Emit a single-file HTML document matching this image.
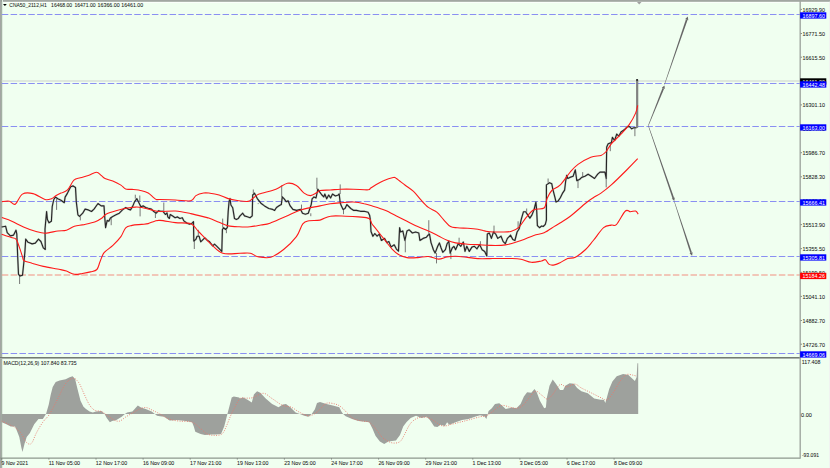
<!DOCTYPE html>
<html><head><meta charset="utf-8"><style>
html,body{margin:0;padding:0;background:#F0FFF0;}
svg{display:block;}
text{font-family:"Liberation Sans",sans-serif;font-size:5.8px;fill:#1a1a1a;stroke:#1a1a1a;stroke-width:0.06px;}
</style></head><body>
<svg width="830" height="468" viewBox="0 0 830 468">
<rect x="0" y="0" width="830" height="468" fill="#F0FFF0"/>
<rect x="0" y="2" width="830" height="1" fill="#fbfffb"/>
<rect x="0" y="0" width="830" height="1.8" fill="#a2a7a2"/>
<rect x="2" y="0" width="1" height="468" fill="#dfeadf"/>
<rect x="0" y="0" width="1.2" height="468" fill="#a3a6a3"/>
<rect x="1.2" y="0" width="0.8" height="468" fill="#94a094"/>
<rect x="829" y="1.8" width="1" height="466.2" fill="#f1f3f1"/>
<line x1="1.8" y1="14.5" x2="800" y2="14.5" stroke="#8a8ff2" stroke-width="1" stroke-dasharray="6.5 2.33"/><line x1="1.8" y1="83.5" x2="800" y2="83.5" stroke="#8a8ff2" stroke-width="1" stroke-dasharray="6.5 2.33"/><line x1="1.8" y1="126.5" x2="800" y2="126.5" stroke="#8a8ff2" stroke-width="1" stroke-dasharray="6.5 2.33"/><line x1="1.8" y1="201.5" x2="800" y2="201.5" stroke="#8a8ff2" stroke-width="1" stroke-dasharray="6.5 2.33"/><line x1="1.8" y1="256.5" x2="800" y2="256.5" stroke="#8a8ff2" stroke-width="1" stroke-dasharray="6.5 2.33"/><line x1="1.8" y1="353.5" x2="800" y2="353.5" stroke="#8a8ff2" stroke-width="1" stroke-dasharray="6.5 2.33"/><line x1="1.8" y1="275" x2="800" y2="275" stroke="#f29080" stroke-width="1.2" stroke-dasharray="6.5 2.33"/>
<line x1="1.8" y1="81" x2="800" y2="81" stroke="#d8e0d8" stroke-width="1.4"/>
<polyline points="1.60,227.00 5.60,226.20 7.20,232.70 10.40,235.90 13.60,235.10 16.00,230.20 16.80,234.00 17.70,256.70 18.50,274.40 20.10,276.00 22.50,275.20 24.10,260.00 24.90,252.00 25.70,239.10 28.10,242.30 32.10,243.90 35.30,243.10 38.50,239.10 40.90,241.50 43.30,247.90 45.30,249.50 45.00,229.20 46.60,211.50 47.40,219.60 49.00,222.80 51.40,221.20 52.20,206.70 53.80,199.50 55.40,197.10 57.80,198.70 61.00,200.30 64.30,202.70 65.10,197.10 67.50,193.10 70.70,186.70 73.10,185.90 75.50,187.50 76.30,201.90 77.90,214.80 79.50,216.40 82.70,213.20 85.10,209.10 88.30,209.90 91.50,211.50 94.00,209.10 98.00,203.50 101.20,205.90 104.00,205.90 104.80,218.00 105.60,227.60 107.20,220.40 108.80,221.20 110.40,218.00 112.80,216.40 116.00,214.80 119.30,213.20 122.50,209.90 125.70,207.50 128.10,209.10 130.50,209.90 132.90,205.90 134.50,201.90 136.90,198.70 138.50,201.90 140.90,206.70 143.30,205.90 145.70,207.50 148.20,208.30 151.40,209.10 153.80,211.50 156.20,213.20 158.60,210.70 160.60,211.30 163.00,211.30 165.40,214.50 167.00,212.90 167.80,216.90 169.40,218.50 170.20,214.50 172.70,216.10 175.10,217.70 177.50,216.90 179.90,218.50 182.30,217.70 183.90,220.90 187.10,223.30 189.50,224.10 191.90,223.30 193.50,221.70 193.80,241.00 195.90,239.40 197.10,236.20 199.10,236.20 200.70,241.80 203.20,239.40 204.80,237.80 207.20,240.20 209.60,241.80 212.70,245.90 214.50,244.10 216.40,245.90 219.10,248.60 221.80,251.40 222.40,229.50 223.60,227.70 225.50,229.50 227.30,227.70 228.20,211.40 229.10,201.40 230.00,198.60 230.90,205.00 232.70,207.70 234.50,218.60 236.40,219.50 238.20,218.60 240.00,215.90 241.80,214.10 242.70,213.20 244.50,215.90 247.30,216.80 250.00,217.70 252.20,215.90 252.70,195.00 254.50,193.20 257.30,198.60 260.90,203.20 264.50,205.90 268.80,208.50 272.70,209.40 274.60,210.40 276.50,207.50 279.40,205.60 281.30,204.60 282.30,196.90 284.20,198.80 286.20,201.70 288.10,200.80 290.00,205.60 292.90,209.40 296.70,210.40 300.60,209.40 302.50,213.30 305.40,214.20 308.30,213.30 311.20,204.60 312.10,198.80 314.00,196.90 316.00,197.90 317.90,189.20 319.80,192.10 321.90,195.00 323.80,196.90 324.80,194.00 326.70,198.80 328.70,195.00 330.60,197.90 332.50,194.00 335.40,196.00 338.30,195.00 339.20,194.00 340.20,202.70 341.20,205.60 343.10,209.40 345.00,208.50 346.90,204.60 348.80,206.50 350.80,208.50 353.70,210.40 356.50,210.40 360.40,211.30 364.20,211.30 368.10,212.30 369.60,215.20 370.40,220.00 371.00,231.50 372.90,236.30 374.80,233.50 377.10,236.20 379.30,234.10 381.40,240.50 384.60,238.40 386.80,242.60 388.90,241.60 391.00,246.90 394.20,244.80 396.40,249.10 398.50,251.20 399.60,227.70 400.60,232.00 402.80,230.90 404.90,240.50 407.00,230.90 409.20,229.80 412.40,233.00 415.60,232.00 418.80,233.00 419.90,240.50 423.10,238.40 426.30,237.30 428.00,235.20 429.50,234.10 431.00,242.60 431.70,244.60 433.40,249.70 435.10,253.10 437.70,246.30 439.40,242.90 441.10,248.00 442.80,252.30 445.40,249.70 447.10,243.70 448.80,241.20 450.20,253.10 452.20,248.00 453.90,246.30 455.60,249.70 458.20,243.70 460.80,246.30 463.30,242.00 465.00,251.40 466.80,246.30 469.30,251.40 471.90,247.10 474.40,246.30 477.00,248.80 479.60,244.60 482.10,249.70 484.70,251.40 486.80,256.00 487.30,234.10 489.30,233.00 491.40,238.40 493.50,232.00 495.70,234.10 497.80,238.40 501.00,236.20 503.20,241.60 505.30,243.70 507.40,238.40 510.60,235.20 512.80,239.40 514.90,240.50 517.10,232.00 519.20,228.80 521.30,219.10 523.50,211.70 525.60,211.70 527.70,214.90 529.90,218.10 532.00,214.90 534.10,209.50 535.90,202.10 536.70,210.60 537.40,225.60 539.50,227.70 541.60,226.00 543.20,226.50 545.30,224.40 546.40,220.10 546.40,184.90 549.60,182.70 551.80,183.80 552.80,189.10 555.00,197.70 556.00,202.00 558.20,200.90 560.30,197.70 562.40,193.40 564.60,190.20 565.60,181.70 566.70,175.30 567.80,178.50 569.90,177.40 573.10,176.30 575.30,169.90 576.80,180.60 579.50,179.50 581.70,177.40 584.90,176.30 588.10,174.20 591.30,176.30 594.50,178.50 597.70,174.20 600.00,172.10 604.90,172.00 606.20,178.50 606.70,146.90 608.20,143.70 611.40,142.60 612.40,137.30 614.60,140.50 616.70,134.10 618.80,136.20 621.00,132.00 624.20,129.80 627.40,126.60 629.50,126.60 631.70,128.80 633.80,127.70 635.90,127.70 636.60,127.70" fill="none" stroke="#8a8a8a" stroke-opacity="0.35" stroke-width="2.1" stroke-linejoin="round"/><line x1="19.6" y1="284" x2="19.6" y2="276" stroke="#6a6a6a" stroke-width="0.9"/><line x1="56.6" y1="209.9" x2="56.6" y2="198.7" stroke="#6a6a6a" stroke-width="0.9"/><line x1="80.3" y1="220.4" x2="80.3" y2="216.4" stroke="#6a6a6a" stroke-width="0.9"/><line x1="111.2" y1="225.2" x2="111.2" y2="218" stroke="#6a6a6a" stroke-width="0.9"/><line x1="135.3" y1="194.7" x2="135.3" y2="198.7" stroke="#6a6a6a" stroke-width="0.9"/><line x1="139.8" y1="195.5" x2="139.8" y2="201.9" stroke="#6a6a6a" stroke-width="0.9"/><line x1="140.1" y1="216.4" x2="140.1" y2="206.7" stroke="#6a6a6a" stroke-width="0.9"/><line x1="155.4" y1="218" x2="155.4" y2="213.2" stroke="#6a6a6a" stroke-width="0.9"/><line x1="163.8" y1="202.5" x2="163.8" y2="211.3" stroke="#6a6a6a" stroke-width="0.9"/><line x1="194.3" y1="249" x2="194.3" y2="241" stroke="#6a6a6a" stroke-width="0.9"/><line x1="198.3" y1="229.8" x2="198.3" y2="236.2" stroke="#6a6a6a" stroke-width="0.9"/><line x1="222.7" y1="218.6" x2="222.7" y2="227.7" stroke="#6a6a6a" stroke-width="0.9"/><line x1="226.4" y1="233.2" x2="226.4" y2="229.5" stroke="#6a6a6a" stroke-width="0.9"/><line x1="253.3" y1="189.5" x2="253.3" y2="193.2" stroke="#6a6a6a" stroke-width="0.9"/><line x1="258.2" y1="204.1" x2="258.2" y2="203.2" stroke="#6a6a6a" stroke-width="0.9"/><line x1="281.7" y1="185.4" x2="281.7" y2="196.9" stroke="#6a6a6a" stroke-width="0.9"/><line x1="301.5" y1="204.6" x2="301.5" y2="209.4" stroke="#6a6a6a" stroke-width="0.9"/><line x1="310.8" y1="216.2" x2="310.8" y2="213.3" stroke="#6a6a6a" stroke-width="0.9"/><line x1="316.9" y1="177.7" x2="316.9" y2="189.2" stroke="#6a6a6a" stroke-width="0.9"/><line x1="340.2" y1="184.4" x2="340.2" y2="194" stroke="#6a6a6a" stroke-width="0.9"/><line x1="343.5" y1="214.2" x2="343.5" y2="209.4" stroke="#6a6a6a" stroke-width="0.9"/><line x1="405.3" y1="252.3" x2="405.3" y2="240.5" stroke="#6a6a6a" stroke-width="0.9"/><line x1="428.8" y1="220.2" x2="428.8" y2="234.1" stroke="#6a6a6a" stroke-width="0.9"/><line x1="436.5" y1="263.4" x2="436.5" y2="253.1" stroke="#6a6a6a" stroke-width="0.9"/><line x1="450.9" y1="259.1" x2="450.9" y2="253.1" stroke="#6a6a6a" stroke-width="0.9"/><line x1="459.1" y1="237.7" x2="459.1" y2="243.7" stroke="#6a6a6a" stroke-width="0.9"/><line x1="480.4" y1="241.2" x2="480.4" y2="244.6" stroke="#6a6a6a" stroke-width="0.9"/><line x1="494" y1="225.6" x2="494" y2="232" stroke="#6a6a6a" stroke-width="0.9"/><line x1="518.1" y1="221.3" x2="518.1" y2="228.8" stroke="#6a6a6a" stroke-width="0.9"/><line x1="526.7" y1="208.5" x2="526.7" y2="211.7" stroke="#6a6a6a" stroke-width="0.9"/><line x1="548.1" y1="178.5" x2="548.1" y2="182.7" stroke="#6a6a6a" stroke-width="0.9"/><line x1="578" y1="188.1" x2="578" y2="180.6" stroke="#6a6a6a" stroke-width="0.9"/><line x1="582.7" y1="172.1" x2="582.7" y2="176.3" stroke="#6a6a6a" stroke-width="0.9"/><line x1="606.2" y1="187.4" x2="606.2" y2="178.5" stroke="#6a6a6a" stroke-width="0.9"/><line x1="610.3" y1="151.2" x2="610.3" y2="143.7" stroke="#6a6a6a" stroke-width="0.9"/><line x1="634.9" y1="136.2" x2="634.9" y2="127.7" stroke="#6a6a6a" stroke-width="0.9"/><polyline points="1.60,227.00 5.60,226.20 7.20,232.70 10.40,235.90 13.60,235.10 16.00,230.20 16.80,234.00 17.70,256.70 18.50,274.40 20.10,276.00 22.50,275.20 24.10,260.00 24.90,252.00 25.70,239.10 28.10,242.30 32.10,243.90 35.30,243.10 38.50,239.10 40.90,241.50 43.30,247.90 45.30,249.50 45.00,229.20 46.60,211.50 47.40,219.60 49.00,222.80 51.40,221.20 52.20,206.70 53.80,199.50 55.40,197.10 57.80,198.70 61.00,200.30 64.30,202.70 65.10,197.10 67.50,193.10 70.70,186.70 73.10,185.90 75.50,187.50 76.30,201.90 77.90,214.80 79.50,216.40 82.70,213.20 85.10,209.10 88.30,209.90 91.50,211.50 94.00,209.10 98.00,203.50 101.20,205.90 104.00,205.90 104.80,218.00 105.60,227.60 107.20,220.40 108.80,221.20 110.40,218.00 112.80,216.40 116.00,214.80 119.30,213.20 122.50,209.90 125.70,207.50 128.10,209.10 130.50,209.90 132.90,205.90 134.50,201.90 136.90,198.70 138.50,201.90 140.90,206.70 143.30,205.90 145.70,207.50 148.20,208.30 151.40,209.10 153.80,211.50 156.20,213.20 158.60,210.70 160.60,211.30 163.00,211.30 165.40,214.50 167.00,212.90 167.80,216.90 169.40,218.50 170.20,214.50 172.70,216.10 175.10,217.70 177.50,216.90 179.90,218.50 182.30,217.70 183.90,220.90 187.10,223.30 189.50,224.10 191.90,223.30 193.50,221.70 193.80,241.00 195.90,239.40 197.10,236.20 199.10,236.20 200.70,241.80 203.20,239.40 204.80,237.80 207.20,240.20 209.60,241.80 212.70,245.90 214.50,244.10 216.40,245.90 219.10,248.60 221.80,251.40 222.40,229.50 223.60,227.70 225.50,229.50 227.30,227.70 228.20,211.40 229.10,201.40 230.00,198.60 230.90,205.00 232.70,207.70 234.50,218.60 236.40,219.50 238.20,218.60 240.00,215.90 241.80,214.10 242.70,213.20 244.50,215.90 247.30,216.80 250.00,217.70 252.20,215.90 252.70,195.00 254.50,193.20 257.30,198.60 260.90,203.20 264.50,205.90 268.80,208.50 272.70,209.40 274.60,210.40 276.50,207.50 279.40,205.60 281.30,204.60 282.30,196.90 284.20,198.80 286.20,201.70 288.10,200.80 290.00,205.60 292.90,209.40 296.70,210.40 300.60,209.40 302.50,213.30 305.40,214.20 308.30,213.30 311.20,204.60 312.10,198.80 314.00,196.90 316.00,197.90 317.90,189.20 319.80,192.10 321.90,195.00 323.80,196.90 324.80,194.00 326.70,198.80 328.70,195.00 330.60,197.90 332.50,194.00 335.40,196.00 338.30,195.00 339.20,194.00 340.20,202.70 341.20,205.60 343.10,209.40 345.00,208.50 346.90,204.60 348.80,206.50 350.80,208.50 353.70,210.40 356.50,210.40 360.40,211.30 364.20,211.30 368.10,212.30 369.60,215.20 370.40,220.00 371.00,231.50 372.90,236.30 374.80,233.50 377.10,236.20 379.30,234.10 381.40,240.50 384.60,238.40 386.80,242.60 388.90,241.60 391.00,246.90 394.20,244.80 396.40,249.10 398.50,251.20 399.60,227.70 400.60,232.00 402.80,230.90 404.90,240.50 407.00,230.90 409.20,229.80 412.40,233.00 415.60,232.00 418.80,233.00 419.90,240.50 423.10,238.40 426.30,237.30 428.00,235.20 429.50,234.10 431.00,242.60 431.70,244.60 433.40,249.70 435.10,253.10 437.70,246.30 439.40,242.90 441.10,248.00 442.80,252.30 445.40,249.70 447.10,243.70 448.80,241.20 450.20,253.10 452.20,248.00 453.90,246.30 455.60,249.70 458.20,243.70 460.80,246.30 463.30,242.00 465.00,251.40 466.80,246.30 469.30,251.40 471.90,247.10 474.40,246.30 477.00,248.80 479.60,244.60 482.10,249.70 484.70,251.40 486.80,256.00 487.30,234.10 489.30,233.00 491.40,238.40 493.50,232.00 495.70,234.10 497.80,238.40 501.00,236.20 503.20,241.60 505.30,243.70 507.40,238.40 510.60,235.20 512.80,239.40 514.90,240.50 517.10,232.00 519.20,228.80 521.30,219.10 523.50,211.70 525.60,211.70 527.70,214.90 529.90,218.10 532.00,214.90 534.10,209.50 535.90,202.10 536.70,210.60 537.40,225.60 539.50,227.70 541.60,226.00 543.20,226.50 545.30,224.40 546.40,220.10 546.40,184.90 549.60,182.70 551.80,183.80 552.80,189.10 555.00,197.70 556.00,202.00 558.20,200.90 560.30,197.70 562.40,193.40 564.60,190.20 565.60,181.70 566.70,175.30 567.80,178.50 569.90,177.40 573.10,176.30 575.30,169.90 576.80,180.60 579.50,179.50 581.70,177.40 584.90,176.30 588.10,174.20 591.30,176.30 594.50,178.50 597.70,174.20 600.00,172.10 604.90,172.00 606.20,178.50 606.70,146.90 608.20,143.70 611.40,142.60 612.40,137.30 614.60,140.50 616.70,134.10 618.80,136.20 621.00,132.00 624.20,129.80 627.40,126.60 629.50,126.60 631.70,128.80 633.80,127.70 635.90,127.70 636.60,127.70" fill="none" stroke="#262626" stroke-width="1.15" stroke-linejoin="round"/><rect x="636.3" y="79.8" width="1.7" height="47.9" fill="#8c8c8c" stroke="#555" stroke-width="0.4"/><circle cx="637.1" cy="79.9" r="0.9" fill="#111"/>
<path d="M1.9,201.6 C3.1,201.5 7.2,200.8 9.4,201.2 C11.6,201.6 13.1,205.4 15.3,204.2 C17.5,203.0 19.4,195.9 22.4,194.1 C25.3,192.3 29.2,192.7 33,193.6 C36.8,194.5 41.9,198.7 45,199.5 C48.1,200.3 49.5,199.4 51.4,198.7 C53.3,198.0 54.6,196.4 56.2,195.5 C57.8,194.6 59.1,194.0 61,193.1 C62.9,192.2 65.3,192.1 67.5,189.9 C69.7,187.8 71.8,182.2 73.9,180.2 C76.0,178.2 77.9,178.6 80.3,177.8 C82.7,177.0 85.6,176.3 88.3,175.4 C91.0,174.5 94.2,172.2 96.4,172.2 C98.6,172.2 99.8,174.3 101.2,175.4 C102.6,176.5 103.1,177.7 105,178.6 C106.9,179.5 110.1,179.9 112.8,181 C115.5,182.1 118.8,183.8 120.9,185.1 C123.1,186.4 123.8,188.4 125.7,189.1 C127.6,189.8 129.4,189.1 132.1,189.4 C134.8,189.7 139.0,190.1 141.7,190.7 C144.4,191.3 146.3,192.0 148.2,193.1 C150.1,194.2 151.7,196.0 153,197.1 C154.3,198.2 155.0,199.1 156.2,199.5 C157.4,199.9 156.8,199.4 160,199.5 C163.2,199.6 170.3,199.8 175.4,200 C180.5,200.2 187.4,201.5 190.8,200.8 C194.2,200.1 193.8,196.9 195.9,195.6 C198.0,194.3 201.2,193.4 203.6,193 C205.9,192.6 207.4,192.9 210,193.2 C212.6,193.5 216.1,194.1 219.1,195 C222.1,195.9 225.2,197.7 228.2,198.6 C231.2,199.5 234.0,200.0 237.3,200.5 C240.6,201.0 245.5,201.9 248.2,201.4 C250.9,200.9 251.8,198.9 253.6,197.7 C255.4,196.5 255.4,195.5 259.1,194.1 C262.8,192.7 271.2,191.0 275.9,189.2 C280.6,187.4 284.0,183.9 287.4,183.3 C290.8,182.7 293.6,183.8 296.4,185.4 C299.2,187.0 301.8,191.4 304.1,193.1 C306.5,194.8 308.4,195.7 310.5,195.6 C312.6,195.5 315.3,193.4 316.9,192.6 C318.5,191.8 317.8,190.9 320,190.5 C322.2,190.1 326.9,190.2 330.3,190 C333.7,189.8 336.7,189.3 340.5,189.2 C344.3,189.1 348.7,189.1 353.3,189.2 C357.9,189.3 365.2,190.0 368.1,189.8 C371.0,189.7 369.2,189.1 370.4,188.3 C371.6,187.5 373.3,186.3 375.5,185 C377.7,183.7 380.6,181.9 383.5,180.7 C386.4,179.4 391.1,177.9 393.2,177.5 C395.3,177.1 394.4,177.2 396.4,178.5 C398.3,179.8 402.0,182.8 404.9,185 C407.8,187.2 410.8,188.9 413.5,191.4 C416.2,193.9 418.4,197.2 420.9,199.9 C423.4,202.6 425.8,205.4 428.4,207.4 C431.0,209.4 434.2,210.0 436.8,212.1 C439.4,214.2 441.4,217.4 443.7,219.8 C446.0,222.2 448.2,225.3 450.5,226.6 C452.8,227.9 454.5,227.5 457.4,227.8 C460.2,228.1 464.2,228.1 467.6,228.3 C471.0,228.5 475.0,228.8 477.9,229.2 C480.8,229.6 482.7,230.5 484.7,230.9 C486.7,231.3 487.4,231.6 490,231.8 C492.6,232.0 497.0,232.1 500.5,232 C504.0,231.9 507.8,232.2 510.8,231.5 C513.8,230.8 515.9,230.0 518.5,227.7 C521.1,225.3 523.7,220.4 526.2,217.4 C528.8,214.4 530.8,211.3 533.8,209.7 C536.8,208.1 541.9,209.9 544.1,208 C546.3,206.1 545.9,201.1 547.2,198.2 C548.5,195.3 549.7,192.7 551.8,190.5 C553.9,188.3 556.9,188.3 560,185.2 C563.1,182.1 567.3,175.5 570.3,172 C573.3,168.5 574.6,166.9 578,164.4 C581.4,161.9 587.0,158.7 590.8,157.2 C594.6,155.7 598.4,156.3 601,155.4 C603.6,154.5 604.5,153.4 606.2,151.5 C607.9,149.6 608.8,146.8 611.3,143.8 C613.8,140.8 618.5,136.8 621.5,133.6 C624.5,130.4 626.9,128.0 629.2,124.6 C631.6,121.2 634.2,116.3 635.6,113.1 C637.0,109.9 637.4,106.7 637.7,105.4" fill="none" stroke="#ff1a1a" stroke-width="1.1"/>
<path d="M1.9,217.6 C3.5,218.2 8.2,219.6 11.8,221.2 C15.4,222.8 19.6,225.3 23.5,227 C27.4,228.7 31.7,230.3 35.3,231.3 C38.9,232.3 41.2,233.2 45,233.2 C48.8,233.1 54.2,231.5 57.8,231 C61.4,230.5 63.6,231.0 66.4,230.2 C69.2,229.4 71.5,227.1 74.4,226.2 C77.3,225.3 80.5,225.3 84,224.6 C87.5,223.8 92.3,222.8 95.3,221.7 C98.2,220.6 99.8,219.5 101.7,218.2 C103.6,216.9 104.0,215.2 106.4,214 C108.8,212.8 112.8,211.6 116,210.7 C119.2,209.8 122.5,208.9 125.7,208.3 C128.9,207.7 132.6,207.2 135.3,207.1 C138.0,207.0 139.0,207.0 141.7,207.5 C144.4,208.0 148.3,209.2 151.4,209.9 C154.5,210.6 156.0,211.3 160,211.5 C164.0,211.7 170.3,210.7 175.4,211 C180.5,211.3 185.7,212.5 190.8,213.6 C195.9,214.7 203.0,216.6 206.2,217.4 C209.4,218.2 207.8,217.8 210,218.6 C212.2,219.4 216.1,221.1 219.1,222.3 C222.1,223.5 224.9,225.2 228.2,225.9 C231.5,226.7 235.5,226.7 239.1,226.8 C242.7,227.0 246.4,227.1 250,226.8 C253.6,226.5 257.6,225.6 260.9,225 C264.2,224.4 265.8,224.7 270,223.2 C274.2,221.7 280.9,218.4 286.2,216.2 C291.4,213.9 295.9,211.4 301.5,209.7 C307.1,208.0 315.2,206.9 320,205.9 C324.8,204.9 326.9,204.3 330.3,203.8 C333.7,203.3 336.7,203.1 340.5,202.8 C344.3,202.5 349.4,201.8 353.3,202 C357.2,202.2 360.8,202.9 364.2,203.7 C367.6,204.4 371.2,205.7 373.8,206.5 C376.4,207.3 378.0,207.8 380,208.5 C382.0,209.2 383.0,209.4 385.7,210.6 C388.4,211.8 392.8,214.1 396.4,215.9 C399.9,217.7 403.4,219.5 407,221.3 C410.6,223.1 414.1,225.0 417.7,226.6 C421.3,228.2 424.9,229.3 428.4,230.9 C431.9,232.5 435.4,234.4 438.5,236 C441.6,237.6 444.2,239.2 447.1,240.3 C450.0,241.5 452.2,242.2 455.6,242.9 C459.0,243.6 463.9,243.9 467.6,244.2 C471.3,244.5 474.2,244.4 477.9,244.6 C481.6,244.8 485.4,245.3 490,245.4 C494.6,245.5 500.4,245.7 505.6,244.9 C510.8,244.1 516.3,242.1 521,240.5 C525.7,238.9 529.9,236.7 533.8,235.4 C537.6,234.1 540.7,234.3 544.1,232.8 C547.5,231.3 551.8,228.0 554.4,226.4 C557.0,224.8 557.4,224.7 560,223 C562.6,221.3 566.0,219.5 570.3,216.2 C574.6,212.9 581.8,206.4 585.6,203.3 C589.4,200.2 590.7,199.4 593.3,197.7 C595.9,196.0 598.0,195.2 601,193.1 C604.0,191.0 607.0,188.8 611.3,184.9 C615.6,181.1 622.3,174.4 626.7,170 C631.1,165.6 635.9,160.6 637.7,158.7" fill="none" stroke="#ff1a1a" stroke-width="1.1"/>
<path d="M1.6,234.3 C3.2,234.8 8.8,236.7 11.2,237.5 C13.6,238.3 14.7,237.5 16,239.1 C17.4,240.7 18.2,244.2 19.3,247.1 C20.4,250.0 21.7,254.4 22.5,256.7 C23.3,259.0 22.5,259.6 24.1,260.7 C25.7,261.8 28.9,262.2 32.1,263.2 C35.3,264.1 38.6,265.3 43.3,266.4 C47.9,267.4 56.1,268.7 60,269.5 C63.9,270.3 64.0,270.3 66.4,271.1 C68.8,271.9 71.7,273.9 74.4,274.3 C77.1,274.7 79.7,273.9 82.4,273.5 C85.1,273.1 88.0,272.6 90.4,271.9 C92.8,271.2 95.3,271.2 96.9,269.5 C98.5,267.8 98.9,264.3 100.1,261.5 C101.3,258.7 102.0,255.4 104.1,252.7 C106.2,250.0 110.1,248.1 112.9,245.4 C115.7,242.7 118.8,239.5 120.9,236.6 C123.0,233.7 123.8,229.7 125.7,227.8 C127.6,225.9 129.4,226.0 132.1,225.4 C134.8,224.8 139.0,224.7 141.7,224.4 C144.4,224.1 146.0,224.1 148.2,223.6 C150.3,223.1 152.6,221.7 154.6,221.2 C156.6,220.7 156.5,220.2 160,220.4 C163.5,220.6 170.3,222.0 175.4,222.6 C180.5,223.2 187.0,222.3 190.8,223.8 C194.7,225.3 195.1,228.1 198.5,231.5 C201.9,234.9 207.2,240.8 211.3,244.4 C215.4,248.0 218.0,251.8 222.8,253.3 C227.6,254.8 235.4,253.3 240,253.3 C244.6,253.3 247.3,252.7 250.3,253.3 C253.3,253.9 254.6,256.1 258,256.7 C261.4,257.3 266.5,258.4 270.8,257.2 C275.1,256.0 279.3,252.9 283.6,249.5 C287.9,246.1 293.2,241.0 296.4,236.7 C299.6,232.4 300.7,226.5 302.8,223.8 C304.9,221.2 306.3,221.4 309.2,220.8 C312.1,220.2 316.5,220.9 320,220.1 C323.5,219.3 326.0,216.8 330.3,216.2 C334.6,215.5 340.9,216.1 345.6,216.2 C350.3,216.3 354.6,216.5 358.5,216.9 C362.4,217.3 366.8,217.3 369,218.5 C371.2,219.7 370.9,222.3 371.9,223.8 C372.9,225.3 373.1,225.3 375,227.7 C376.9,230.1 380.6,234.8 383.5,238.4 C386.4,242.0 389.6,246.4 392.1,249.1 C394.6,251.8 396.0,253.0 398.5,254.4 C401.0,255.8 403.8,257.1 407,257.6 C410.2,258.1 414.1,257.8 417.7,257.6 C421.3,257.4 424.9,256.2 428.4,256.5 C431.9,256.8 435.4,259.0 438.5,259.1 C441.6,259.2 444.2,257.4 447.1,256.9 C450.0,256.4 452.2,256.1 455.6,256.2 C459.0,256.3 463.9,257.0 467.6,257.4 C471.3,257.8 474.2,258.4 477.9,258.6 C481.6,258.8 487.1,258.6 490,258.6 C492.9,258.6 491.9,258.5 495.4,258.5 C498.9,258.5 506.5,258.4 510.8,258.5 C515.1,258.6 517.6,258.6 521,259.2 C524.4,259.8 527.9,262.0 531.3,262.3 C534.7,262.6 539.1,261.4 541.5,261 C543.9,260.6 544.1,259.1 545.4,259.7 C546.7,260.3 547.7,263.5 549.2,264.4 C550.7,265.3 552.6,265.2 554.4,264.9 C556.2,264.6 557.8,263.9 560,262.8 C562.2,261.7 565.1,259.4 567.7,258.5 C570.3,257.6 572.4,258.7 575.4,257.2 C578.4,255.7 582.6,252.3 585.6,249.5 C588.6,246.7 590.3,244.1 593.3,240.5 C596.3,236.9 600.6,230.3 603.6,227.7 C606.6,225.1 609.2,225.6 611.3,225.1 C613.4,224.6 614.0,226.9 616.4,224.6 C618.8,222.2 623.0,213.1 625.4,211 C627.8,208.9 628.8,211.8 630.5,211.8 C632.2,211.8 634.3,210.6 635.6,211 C636.9,211.4 637.8,213.6 638.2,214.1" fill="none" stroke="#ff1a1a" stroke-width="1.1"/>
<polygon points="1.70,414.00 1.70,422.20 6.40,424.30 10.70,426.40 15.00,426.40 16.00,428.60 19.30,437.10 21.40,447.80 22.50,452.10 24.60,443.60 26.70,437.10 29.90,432.90 34.20,424.30 38.50,419.00 42.80,419.00 44.90,415.80 46.10,413.70 48.70,404.80 50.70,394.80 52.70,386.90 55.70,381.90 59.60,380.50 65.60,379.30 69.60,377.30 72.60,376.30 75.10,378.90 77.50,388.90 80.50,400.80 83.50,406.70 86.00,409.00 89.60,411.50 92.80,412.50 96.00,411.50 101.40,411.00 104.60,414.00 106.70,417.90 109.90,422.20 112.10,421.10 116.40,420.00 121.70,416.80 124.90,414.00 127.10,412.50 132.40,411.50 137.80,405.50 141.00,407.60 146.30,409.30 151.70,411.50 154.90,414.00 157.00,415.80 160.00,416.20 164.30,416.80 169.60,420.50 177.10,420.00 185.70,421.10 192.10,422.20 193.80,426.40 195.30,431.80 200.60,433.90 204.90,435.00 211.30,434.60 215.60,434.60 221.00,433.90 224.20,426.40 227.40,414.00 229.50,406.10 231.70,397.60 233.80,396.50 239.10,397.60 240.00,398.60 243.20,397.60 247.50,399.70 251.80,402.50 253.90,394.40 257.10,391.20 260.30,392.70 265.70,398.60 272.10,404.00 278.50,407.20 282.80,404.60 286.00,404.00 290.30,407.20 295.60,412.50 299.90,414.00 304.20,415.80 308.40,416.80 311.70,414.00 314.90,409.30 317.00,402.90 320.00,401.90 323.20,402.90 326.40,404.00 332.80,405.50 339.30,407.20 341.40,411.50 343.10,414.00 345.70,416.20 352.10,419.00 358.50,421.10 369.20,422.20 372.40,428.60 375.60,436.10 379.90,441.40 384.20,444.00 388.40,441.40 395.90,440.40 400.00,435.00 403.20,426.40 406.40,422.20 410.70,417.90 416.00,415.80 421.40,417.90 426.70,416.80 429.90,420.00 434.20,426.40 437.40,426.90 440.60,424.70 444.90,426.00 447.10,422.20 449.20,424.70 455.60,422.20 462.00,420.00 468.40,419.00 474.90,416.80 480.00,415.30 484.30,416.20 486.40,419.00 488.60,411.00 491.80,408.30 495.00,404.00 499.30,403.30 502.50,406.10 505.70,408.90 512.10,407.60 516.40,408.30 520.60,404.00 523.90,396.50 527.10,392.20 531.30,392.70 534.50,389.00 536.70,392.20 539.90,400.80 544.20,408.30 545.90,407.60 546.70,398.60 549.50,385.80 552.70,379.40 555.90,383.70 560.00,390.10 563.20,390.10 565.30,385.80 569.60,383.20 573.90,383.70 577.10,388.00 581.40,391.20 587.80,393.30 594.20,398.60 600.60,399.70 603.90,399.70 605.30,402.90 606.60,398.60 609.20,389.00 612.40,381.50 616.70,376.20 623.10,374.00 628.40,375.10 632.70,379.00 634.90,381.10 636.60,377.30 637.40,363.30 638.20,363.30 638.20,414.00" fill="#9ea19d"/>
<path d="M1.7,421.1 C2.8,421.6 6.4,423.2 8.6,424.3 C10.8,425.4 12.9,425.9 15,427.5 C17.1,429.1 19.6,431.6 21.4,433.9 C23.2,436.2 24.4,439.7 25.7,441.4 C26.9,443.1 27.8,443.8 28.9,444 C30.0,444.2 30.9,444.4 32.1,442.5 C33.4,440.6 34.6,436.3 36.4,432.9 C38.2,429.5 40.7,425.2 42.8,422.2 C44.9,419.2 47.1,417.9 49.2,414.7 C51.3,411.5 53.8,406.3 55.6,402.9 C57.4,399.5 58.5,397.2 59.9,394.4 C61.3,391.5 62.8,388.1 64.2,385.8 C65.6,383.5 66.8,381.8 68.4,380.5 C70.0,379.2 72.4,378.3 73.8,378.3 C75.2,378.3 76.0,379.4 77,380.5 C78.0,381.6 78.8,382.4 80,384.7 C81.2,387.0 82.7,391.0 84.3,394.4 C85.9,397.8 87.8,402.4 89.6,405.1 C91.4,407.8 93.0,409.3 95,410.4 C97.0,411.5 99.3,410.6 101.4,411.5 C103.5,412.4 105.7,414.4 107.8,415.8 C109.9,417.2 112.2,419.1 114.2,420 C116.2,420.9 117.6,421.6 119.6,421.1 C121.6,420.6 123.7,418.2 126,416.8 C128.3,415.4 131.2,413.8 133.5,412.5 C135.8,411.2 137.8,409.7 139.9,408.9 C142.0,408.1 144.2,407.4 146.3,407.6 C148.4,407.9 150.4,409.3 152.7,410.4 C155.0,411.5 157.3,412.6 160,414 C162.7,415.4 165.4,417.8 168.6,419 C171.8,420.2 175.4,420.6 179.3,421.1 C183.2,421.6 188.6,420.9 192.1,422.2 C195.6,423.4 198.1,426.7 200.6,428.6 C203.1,430.6 204.8,432.8 207.1,433.9 C209.4,435.0 212.0,435.4 214.5,435.4 C217.0,435.4 220.0,435.4 222,433.9 C224.0,432.4 224.9,429.4 226.3,426.4 C227.7,423.4 229.2,419.0 230.6,415.8 C232.0,412.6 233.3,410.1 234.9,407.2 C236.5,404.3 238.1,400.1 240,398.6 C241.9,397.1 244.3,398.4 246.4,398.2 C248.5,398.0 250.0,398.4 252.8,397.6 C255.7,396.8 260.3,393.1 263.5,393.3 C266.7,393.5 268.9,396.6 272.1,398.6 C275.3,400.6 279.6,404.1 282.8,405.5 C286.0,406.9 288.5,406.0 291.3,407.2 C294.1,408.4 297.0,411.1 299.9,412.5 C302.8,413.9 305.9,415.6 308.4,415.8 C310.9,416.0 313.0,414.7 314.9,413.6 C316.8,412.5 318.1,411.0 320,409.3 C321.9,407.6 323.9,404.2 326.4,403.3 C328.9,402.4 332.5,403.4 335,404 C337.5,404.6 339.3,405.6 341.4,407.2 C343.5,408.8 345.7,411.6 347.8,413.6 C349.9,415.6 351.7,417.8 354.2,419 C356.7,420.2 360.3,420.6 362.8,421.1 C365.3,421.6 367.1,420.9 369.2,422.2 C371.3,423.4 373.5,426.1 375.6,428.6 C377.7,431.1 379.9,435.0 382,437.1 C384.1,439.2 386.4,440.4 388.4,441.4 C390.4,442.4 391.9,443.1 393.8,443.1 C395.7,443.1 398.2,443.0 400,441.6 C401.8,440.2 402.9,437.5 404.3,435 C405.7,432.5 407.2,428.7 408.6,426.4 C410.0,424.1 411.0,422.6 412.8,421.1 C414.6,419.6 416.8,418.1 419.3,417.5 C421.8,416.9 425.3,416.9 427.8,417.5 C430.3,418.1 431.7,419.7 434.2,421.1 C436.7,422.5 439.9,425.5 442.8,426 C445.7,426.5 448.5,424.9 451.3,424.3 C454.1,423.7 457.0,422.9 459.9,422.2 C462.8,421.5 465.0,420.9 468.4,420 C471.8,419.1 477.0,417.5 480,416.8 C483.0,416.1 484.3,416.7 486.4,415.8 C488.5,414.9 490.3,413.2 492.8,411.5 C495.3,409.8 498.5,406.2 501.4,405.5 C504.2,404.8 507.4,406.7 509.9,407.2 C512.4,407.7 514.2,408.6 516.4,408.3 C518.5,408.0 520.7,407.3 522.8,405.5 C524.9,403.7 527.1,400.0 529.2,397.6 C531.3,395.2 533.5,391.6 535.6,391.2 C537.7,390.8 540.0,394.1 542,395.4 C544.0,396.7 545.6,399.3 547.4,399.1 C549.2,398.9 550.6,396.8 552.7,394.4 C554.8,392.0 557.7,385.9 560,384.7 C562.3,383.4 563.9,387.0 566.4,386.9 C568.9,386.8 572.5,383.9 575,384.1 C577.5,384.3 578.5,386.5 581.4,388 C584.2,389.5 588.5,391.5 592.1,393.3 C595.7,395.1 600.3,397.5 602.8,398.6 C605.3,399.7 605.3,400.8 607.1,399.7 C608.9,398.6 611.4,395.2 613.5,392.2 C615.6,389.2 617.8,384.4 619.9,381.5 C622.0,378.6 624.2,375.8 626.3,374.7 C628.4,373.6 631.0,374.9 632.7,375.1 C634.4,375.4 636.0,376.0 636.6,376.2" fill="none" stroke="#e8786c" stroke-width="0.9" stroke-dasharray="1 1.4"/>
<polygon points="648.43,125.89 664.09,88.69 662.51,88.05 647.97,125.71" fill="#666"/><polygon points="664.50,85.40 664.79,88.97 661.82,87.77" fill="#666"/><polygon points="664.74,84.58 687.57,19.90 685.96,19.35 664.26,84.42" fill="#666"/><polygon points="687.80,16.60 688.27,20.15 685.25,19.11" fill="#666"/><polygon points="648.26,126.28 672.45,198.25 674.06,197.70 648.74,126.12" fill="#666"/><polygon points="674.30,201.00 671.74,198.50 674.77,197.45" fill="#666"/><polygon points="674.06,201.58 690.30,253.02 691.91,252.49 674.54,201.42" fill="#666"/><polygon points="692.10,255.80 689.58,253.26 692.62,252.26" fill="#666"/>
<rect x="0" y="357" width="800" height="1" fill="#737b73"/><rect x="0" y="358" width="800" height="1" fill="#aab2aa"/>
<line x1="0" y1="458.2" x2="800" y2="458.2" stroke="#8e988e" stroke-width="1.2"/>
<line x1="800.2" y1="0" x2="800.2" y2="458.8" stroke="#a0a8a0" stroke-width="1.4"/>
<polygon points="3,4 6.8,4 4.9,6" fill="#000"/>
<text x="9.3" y="7.4" textLength="37.4" lengthAdjust="spacingAndGlyphs">CNA50_2112,H1</text>
<text x="51.1" y="7.4" textLength="21.1" lengthAdjust="spacingAndGlyphs">16468.00</text>
<text x="74.4" y="7.4" textLength="21.2" lengthAdjust="spacingAndGlyphs">16471.00</text>
<text x="97.5" y="7.4" textLength="22.2" lengthAdjust="spacingAndGlyphs">16366.00</text>
<text x="121.3" y="7.4" textLength="21.8" lengthAdjust="spacingAndGlyphs">16461.00</text>
<text x="3.4" y="365" textLength="73.2" lengthAdjust="spacingAndGlyphs">MACD(12,26,9) 107.840 83.735</text>
<polygon points="637,2 641.5,2 639.2,4.5" fill="#a0a0a0"/>
<line x1="800.8" y1="9.4" x2="801.8" y2="9.4" stroke="#333" stroke-width="0.7"/><text x="802.6" y="11.7" textLength="22.3" lengthAdjust="spacingAndGlyphs">16929.90</text><line x1="800.8" y1="33.5" x2="801.8" y2="33.5" stroke="#333" stroke-width="0.7"/><text x="802.6" y="35.8" textLength="22.3" lengthAdjust="spacingAndGlyphs">16771.50</text><line x1="800.8" y1="57.2" x2="801.8" y2="57.2" stroke="#333" stroke-width="0.7"/><text x="802.6" y="59.5" textLength="22.3" lengthAdjust="spacingAndGlyphs">16615.50</text><line x1="800.8" y1="80.6" x2="801.8" y2="80.6" stroke="#333" stroke-width="0.7"/><text x="802.6" y="82.9" textLength="22.3" lengthAdjust="spacingAndGlyphs">16461.00</text><line x1="800.8" y1="104.9" x2="801.8" y2="104.9" stroke="#333" stroke-width="0.7"/><text x="802.6" y="107.2" textLength="22.3" lengthAdjust="spacingAndGlyphs">16301.10</text><line x1="800.8" y1="128.7" x2="801.8" y2="128.7" stroke="#333" stroke-width="0.7"/><text x="802.6" y="131.0" textLength="22.3" lengthAdjust="spacingAndGlyphs">16144.70</text><line x1="800.8" y1="152.7" x2="801.8" y2="152.7" stroke="#333" stroke-width="0.7"/><text x="802.6" y="155.0" textLength="22.3" lengthAdjust="spacingAndGlyphs">15986.70</text><line x1="800.8" y1="176.8" x2="801.8" y2="176.8" stroke="#333" stroke-width="0.7"/><text x="802.6" y="179.1" textLength="22.3" lengthAdjust="spacingAndGlyphs">15828.30</text><line x1="800.8" y1="200.8" x2="801.8" y2="200.8" stroke="#333" stroke-width="0.7"/><text x="802.6" y="203.1" textLength="22.3" lengthAdjust="spacingAndGlyphs">15670.10</text><line x1="800.8" y1="224.6" x2="801.8" y2="224.6" stroke="#333" stroke-width="0.7"/><text x="802.6" y="226.9" textLength="22.3" lengthAdjust="spacingAndGlyphs">15513.90</text><line x1="800.8" y1="248.6" x2="801.8" y2="248.6" stroke="#333" stroke-width="0.7"/><text x="802.6" y="250.9" textLength="22.3" lengthAdjust="spacingAndGlyphs">15355.50</text><line x1="800.8" y1="272.3" x2="801.8" y2="272.3" stroke="#333" stroke-width="0.7"/><text x="802.6" y="274.6" textLength="22.3" lengthAdjust="spacingAndGlyphs">15199.50</text><line x1="800.8" y1="296.4" x2="801.8" y2="296.4" stroke="#333" stroke-width="0.7"/><text x="802.6" y="298.7" textLength="22.3" lengthAdjust="spacingAndGlyphs">15041.10</text><line x1="800.8" y1="320.5" x2="801.8" y2="320.5" stroke="#333" stroke-width="0.7"/><text x="802.6" y="322.8" textLength="22.3" lengthAdjust="spacingAndGlyphs">14882.70</text><line x1="800.8" y1="344.2" x2="801.8" y2="344.2" stroke="#333" stroke-width="0.7"/><text x="802.6" y="346.5" textLength="22.3" lengthAdjust="spacingAndGlyphs">14726.70</text>
<rect x="800.1" y="12.3" width="26.2" height="6.3" fill="#0000FF"/><text x="802.6" y="17.6" textLength="22.3" lengthAdjust="spacingAndGlyphs" style="fill:#fff;stroke:none">16897.60</text><rect x="800.1" y="78.3" width="26.2" height="6.3" fill="#000000"/><text x="802.6" y="83.6" textLength="22.3" lengthAdjust="spacingAndGlyphs" style="fill:#fff;stroke:none">16461.00</text><rect x="800.1" y="81.3" width="26.2" height="6.3" fill="#0000FF"/><text x="802.6" y="86.6" textLength="22.3" lengthAdjust="spacingAndGlyphs" style="fill:#fff;stroke:none">16442.48</text><rect x="800.1" y="124.3" width="26.2" height="6.3" fill="#0000FF"/><text x="802.6" y="129.6" textLength="22.3" lengthAdjust="spacingAndGlyphs" style="fill:#fff;stroke:none">16163.00</text><rect x="800.1" y="199.3" width="26.2" height="6.3" fill="#0000FF"/><text x="802.6" y="204.6" textLength="22.3" lengthAdjust="spacingAndGlyphs" style="fill:#fff;stroke:none">15666.41</text><rect x="800.1" y="254.3" width="26.2" height="6.3" fill="#0000FF"/><text x="802.6" y="259.6" textLength="22.3" lengthAdjust="spacingAndGlyphs" style="fill:#fff;stroke:none">15305.81</text><rect x="800.1" y="272.8" width="26.2" height="6.3" fill="#FF0000"/><text x="802.6" y="278.1" textLength="22.3" lengthAdjust="spacingAndGlyphs" style="fill:#fff;stroke:none">15184.26</text><rect x="800.1" y="351.3" width="26.2" height="6.3" fill="#0000FF"/><text x="802.6" y="356.6" textLength="22.3" lengthAdjust="spacingAndGlyphs" style="fill:#fff;stroke:none">14669.06</text>
<text x="801.7" y="363.9" textLength="18.7" lengthAdjust="spacingAndGlyphs">117.408</text>
<text x="801.1" y="416.6" textLength="10.8" lengthAdjust="spacingAndGlyphs">0.00</text>
<text x="801.9" y="456.8" textLength="17.1" lengthAdjust="spacingAndGlyphs">-93.091</text>
<line x1="1.8" y1="458.5" x2="1.8" y2="459.5" stroke="#555" stroke-width="0.8"/><text x="1.6" y="464.8" textLength="26.5" lengthAdjust="spacingAndGlyphs">9 Nov 2021</text><line x1="48.9" y1="458.5" x2="48.9" y2="459.5" stroke="#555" stroke-width="0.8"/><text x="48.7" y="464.8" textLength="31.4" lengthAdjust="spacingAndGlyphs">11 Nov 05:00</text><line x1="96.0" y1="458.5" x2="96.0" y2="459.5" stroke="#555" stroke-width="0.8"/><text x="95.8" y="464.8" textLength="31.4" lengthAdjust="spacingAndGlyphs">12 Nov 17:00</text><line x1="143.1" y1="458.5" x2="143.1" y2="459.5" stroke="#555" stroke-width="0.8"/><text x="142.9" y="464.8" textLength="31.4" lengthAdjust="spacingAndGlyphs">16 Nov 09:00</text><line x1="190.2" y1="458.5" x2="190.2" y2="459.5" stroke="#555" stroke-width="0.8"/><text x="190.0" y="464.8" textLength="31.4" lengthAdjust="spacingAndGlyphs">17 Nov 21:00</text><line x1="237.3" y1="458.5" x2="237.3" y2="459.5" stroke="#555" stroke-width="0.8"/><text x="237.1" y="464.8" textLength="31.4" lengthAdjust="spacingAndGlyphs">19 Nov 13:00</text><line x1="284.4" y1="458.5" x2="284.4" y2="459.5" stroke="#555" stroke-width="0.8"/><text x="284.2" y="464.8" textLength="31.4" lengthAdjust="spacingAndGlyphs">23 Nov 05:00</text><line x1="331.5" y1="458.5" x2="331.5" y2="459.5" stroke="#555" stroke-width="0.8"/><text x="331.3" y="464.8" textLength="31.4" lengthAdjust="spacingAndGlyphs">24 Nov 17:00</text><line x1="378.6" y1="458.5" x2="378.6" y2="459.5" stroke="#555" stroke-width="0.8"/><text x="378.4" y="464.8" textLength="31.4" lengthAdjust="spacingAndGlyphs">26 Nov 09:00</text><line x1="425.7" y1="458.5" x2="425.7" y2="459.5" stroke="#555" stroke-width="0.8"/><text x="425.5" y="464.8" textLength="31.4" lengthAdjust="spacingAndGlyphs">29 Nov 21:00</text><line x1="472.8" y1="458.5" x2="472.8" y2="459.5" stroke="#555" stroke-width="0.8"/><text x="472.6" y="464.8" textLength="28.3" lengthAdjust="spacingAndGlyphs">1 Dec 13:00</text><line x1="519.9" y1="458.5" x2="519.9" y2="459.5" stroke="#555" stroke-width="0.8"/><text x="519.7" y="464.8" textLength="28.3" lengthAdjust="spacingAndGlyphs">3 Dec 05:00</text><line x1="567.0" y1="458.5" x2="567.0" y2="459.5" stroke="#555" stroke-width="0.8"/><text x="566.8" y="464.8" textLength="28.3" lengthAdjust="spacingAndGlyphs">6 Dec 17:00</text><line x1="614.1" y1="458.5" x2="614.1" y2="459.5" stroke="#555" stroke-width="0.8"/><text x="613.9" y="464.8" textLength="28.3" lengthAdjust="spacingAndGlyphs">8 Dec 09:00</text>
</svg>
</body></html>
